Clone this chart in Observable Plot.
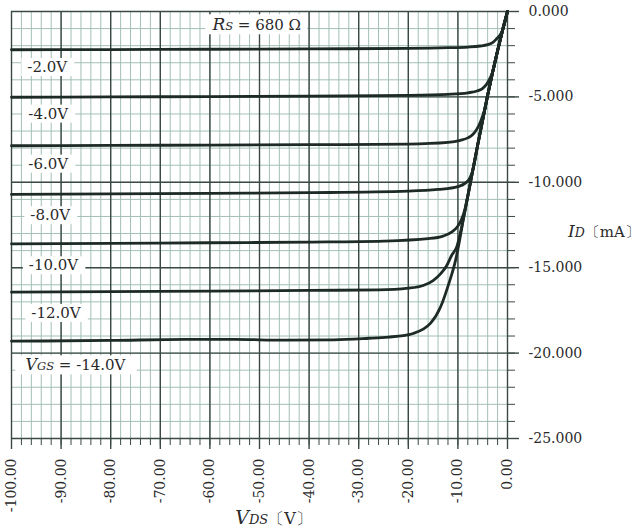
<!DOCTYPE html>
<html><head><meta charset="utf-8">
<script src="https://cdn.jsdelivr.net/npm/d3@7"></script>
<script src="https://cdn.jsdelivr.net/npm/@observablehq/plot@0.6"></script>
<style>
html,body{margin:0;padding:0;background:#fff;}
#chart svg{display:block;}
</style>
</head><body><div id="chart"></div>
<script>
// ---- data ----
const xMajor = [-100,-90,-80,-70,-60,-50,-40,-30,-20,-10,0];
const xMinor = d3.range(-100, 0.1, 2);
const yMajor = [-25,-20,-15,-10,-5,0];
const yMinor = d3.range(-25, 0.1, 1);

const vgsValues = [-2,-4,-6,-8,-10,-12,-14];
const vgsLabels = ["-2.0V","-4.0V","-6.0V","-8.0V","-10.0V","-12.0V","VGS = -14.0V"];
const labelX = [-96.8,-96.6,-96.6,-96.2,-96.5,-96.0,-97.2];
const labelY = [-3.26,-5.99,-8.92,-11.94,-14.87,-17.66,-20.73];

const curveM2 = [[-100,-2.24],[-80,-2.23],[-60,-2.21],[-40,-2.19],[-20,-2.16],[-12,-2.12],[-8,-2.08],[-5.5,-2.02],[-4,-1.94],[-3,-1.82],[-2.2,-1.6],[-1.5,-1.38],[-1,-1.1],[0,0]];
const curveM4 = [[-100,-5.02],[-80,-5.0],[-60,-4.98],[-40,-4.95],[-20,-4.91],[-12,-4.85],[-8,-4.76],[-6,-4.64],[-5,-4.5],[-4.2,-4.25],[-3.6,-3.95],[-3,-3.55],[-2,-2.3],[-1,-1.1],[0,0]];
const curveM6 = [[-100,-7.86],[-80,-7.84],[-60,-7.82],[-40,-7.8],[-20,-7.76],[-12,-7.66],[-9.5,-7.54],[-8,-7.4],[-7,-7.2],[-6.2,-6.9],[-5.5,-6.5],[-5,-6.1],[-4.6,-5.75],[-4,-4.9],[-3,-3.55],[-2,-2.3],[-1,-1.1],[0,0]];
const curveM8 = [[-100,-10.71],[-80,-10.68],[-60,-10.65],[-40,-10.61],[-20,-10.52],[-14,-10.42],[-10,-10.25],[-8.5,-10.05],[-7.6,-9.75],[-7,-9.3],[-6,-7.8],[-5,-6.35],[-4,-4.9],[-3,-3.55],[-2,-2.3],[-1,-1.1],[0,0]];
const curveM10 = [[-100,-13.6],[-80,-13.57],[-60,-13.54],[-40,-13.5],[-25,-13.44],[-16,-13.3],[-13,-13.15],[-11.2,-12.9],[-10.1,-12.6],[-9.3,-12.2],[-8.6,-11.6],[-8,-10.8],[-7,-9.3],[-6,-7.8],[-5,-6.35],[-4,-4.9],[-3,-3.55],[-2,-2.3],[-1,-1.1],[0,0]];
const curveM12 = [[-100,-16.43],[-80,-16.4],[-60,-16.37],[-40,-16.33],[-26,-16.3],[-20,-16.2],[-17,-16.04],[-15,-15.75],[-13.5,-15.36],[-12.3,-14.9],[-11.3,-14.3],[-10.2,-13.75],[-9,-12.3],[-8,-10.8],[-7,-9.3],[-6,-7.8],[-5,-6.35],[-4,-4.9],[-3,-3.55],[-2,-2.3],[-1,-1.1],[0,0]];
const curveM14 = [[-100,-19.3],[-80,-19.26],[-65,-19.2],[-55,-19.2],[-45,-19.24],[-35,-19.22],[-28,-19.13],[-24,-19.06],[-21,-18.98],[-19,-18.85],[-17,-18.6],[-15.5,-18.25],[-13.5,-17.3],[-11.8,-15.9],[-10.5,-14.6],[-9.6,-13.3],[-9,-12.3],[-8,-10.8],[-7,-9.3],[-6,-7.8],[-5,-6.35],[-4,-4.9],[-3,-3.55],[-2,-2.3],[-1,-1.1],[0,0]];
const curvePoints = [curveM2, curveM4, curveM6, curveM8, curveM10, curveM12, curveM14];

const rsLabel = "Rs = 680 Ω";
const rsX = -59.5, rsY = -0.82;

// ---- build tables ----
const rows = vgsValues.flatMap((v, i) => curvePoints[i].map(([vds, id]) => ({vgs: v, vds, id})));
const labels = vgsLabels.map((t, i) => ({text: t, x: labelX[i], y: labelY[i]}));

const minorColor = "#a3bfb6";
const majorColor = "#3a4943";
const curveColor = "#1d2a25";
const FONT = "'DejaVu Serif', serif";

const plot = Plot.plot({
  width: 644, height: 528,
  marginLeft: 11, marginTop: 11, marginRight: 137, marginBottom: 90,
  style: {fontFamily: FONT, background: "#fff", color: "#333"},
  x: {domain: [-100, 0]},
  y: {domain: [-25, 0]},
  marks: [
    Plot.ruleX(xMinor, {stroke: minorColor, strokeWidth: 1}),
    Plot.ruleY(yMinor, {stroke: minorColor, strokeWidth: 1}),
    Plot.ruleX(xMajor, {stroke: majorColor, strokeWidth: 1.4}),
    Plot.ruleY(yMajor, {stroke: majorColor, strokeWidth: 1.4}),
    Plot.axisX({ticks: xMinor, tickSize: 7, tickFormat: () => "", label: null, stroke: majorColor}),
    Plot.axisX({ticks: xMajor, tickSize: 11, tickPadding: 9, tickRotate: -90, tickFormat: d => d.toFixed(2), label: null, fontSize: 14, stroke: majorColor, strokeWidth: 1.4, fill: "#2a2a2a"}),
    Plot.axisY({ticks: yMinor, anchor: "right", tickSize: 7, tickFormat: () => "", label: null, stroke: majorColor}),
    Plot.axisY({ticks: yMajor, anchor: "right", tickSize: 11, tickPadding: 10, tickFormat: d => d.toFixed(3), label: null, fontSize: 14, stroke: majorColor, strokeWidth: 1.4, fill: "#2a2a2a"}),
    Plot.line(rows, {x: "vds", y: "id", z: "vgs", curve: "monotone-x", stroke: curveColor, strokeWidth: 2.8}),
    Plot.text(labels, {x: "x", y: "y", text: "text", textAnchor: "start", fontSize: 15, fill: "#2a2a2a", className: "clabel"}),
    Plot.text([rsLabel], {x: () => rsX, y: () => rsY, text: d => d, textAnchor: "start", fontSize: 15, fill: "#2a2a2a", className: "clabel"})
  ]
});
document.getElementById("chart").appendChild(plot);

// rich text for subscripted labels
function rich(el, parts) {
  const t = d3.select(el);
  t.text(null);
  parts.forEach(p => {
    t.append("tspan").text(p.t)
      .attr("font-style", p.i ? "italic" : null)
      .attr("font-size", p.s);
  });
}
d3.select(plot).selectAll(".clabel text").each(function() {
  const s = this.textContent;
  if (s.startsWith("VGS")) rich(this, [{t: "V", i: true, s: 16}, {t: "GS", i: true, s: 11.5}, {t: " = -14.0V", s: 15}]);
  if (s.startsWith("Rs")) rich(this, [{t: "R", i: true, s: 17}, {t: "S", i: true, s: 11.5}, {t: " = 680 Ω", s: 15}]);
});
// white boxes behind labels
d3.select(plot).selectAll(".clabel text").each(function() {
  const b = this.getBBox();
  const padX = this.textContent.startsWith("V") ? 10 : 6;
  const r = document.createElementNS("http://www.w3.org/2000/svg", "rect");
  r.setAttribute("x", b.x - padX);
  r.setAttribute("y", b.y);
  r.setAttribute("width", b.width + 2 * padX);
  r.setAttribute("height", b.height);
  r.setAttribute("fill", "#fff");
  const tr = this.getAttribute("transform");
  if (tr) r.setAttribute("transform", tr);
  this.parentNode.insertBefore(r, this);
});

// axis titles
const svg = d3.select(plot);
const xs = plot.scale("x"), ys = plot.scale("y");
const idTitle = svg.append("text").attr("x", xs.apply(0) + 61).attr("y", ys.apply(-12.8) + 7)
  .attr("text-anchor", "start").attr("font-family", FONT).attr("fill", "#2a2a2a");
rich(idTitle.node(), [{t: "I", i: true, s: 17}, {t: "D", i: true, s: 12.5}, {t: "〔mA〕", s: 15}]);
const vTitle = svg.append("text").attr("x", xs.apply(-54.8)).attr("y", 524)
  .attr("text-anchor", "start").attr("font-family", FONT).attr("fill", "#2a2a2a");
rich(vTitle.node(), [{t: "V", i: true, s: 19}, {t: "DS", i: true, s: 13}, {t: "〔V〕", s: 16}]);
</script>
</body></html>
